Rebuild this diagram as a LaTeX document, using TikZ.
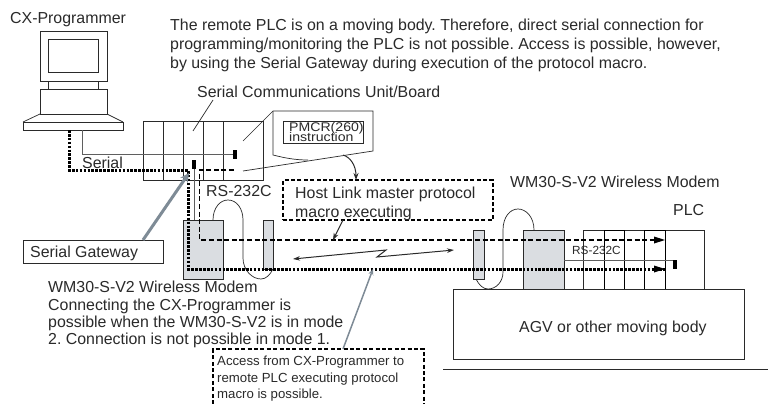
\documentclass[tikz,border=0pt]{standalone}
\usepackage{fontspec}
\setmainfont{Liberation Sans}
\newfontfamily\pmcrfont[FakeStretch=1.12]{Liberation Sans}
\usetikzlibrary{arrows.meta}
\definecolor{ink}{HTML}{2A2A2A}
\definecolor{modemfill}{HTML}{DADDE1}
\definecolor{leader}{HTML}{7E8B96}
\tikzset{
  line/.style={draw=ink,line width=0.7pt},
  box/.style={line,inner sep=0pt,outer sep=0pt,anchor=north west},
  modem/.style={box,fill=modemfill},
  txt/.style={anchor=base west,inner sep=0pt,text=ink,font=\fontsize{15.9}{18}\selectfont\frenchspacing},
  smalltxt/.style={txt,font=\fontsize{13.2}{15}\selectfont\frenchspacing},
  tinytxt/.style={txt,font=\fontsize{11.8}{13}\selectfont},
  pmcrtxt/.style={txt,font=\pmcrfont\fontsize{12.6}{13}\selectfont},
  thickdots/.style={draw=black,line width=3pt,dash pattern=on 2.6pt off 1.3pt},
  dashline/.style={draw=black,line width=1.5pt,dash pattern=on 5pt off 2.6pt},
  dashbox/.style={draw=black,line width=1.5pt,dash pattern=on 4pt off 2.4pt},
  tip/.style={-{Stealth[length=7pt,width=5pt]}},
  bothtip/.style={{Stealth[length=7pt,width=4.5pt]}-{Stealth[length=7pt,width=4.5pt]}},
  serialline/.style={draw=ink!75,line width=0.8pt},
  block/.style={fill=black,draw=none,inner sep=0pt,anchor=north west},
}
\newcommand{\rect}[6]{\node[#1,minimum width=#5pt-#3pt,minimum height=#6pt-#4pt] (#2) at (#3,#4) {};}
\begin{document}
\begin{tikzpicture}[x=1pt,y=-1pt]
\useasboundingbox (0,0) rectangle (768,404);
\fill[white] (0,0) rectangle (768,404);
% computer
\rect{box}{mon}{40}{31}{107}{81}
\rect{box}{scr}{48}{39}{98}{72}
\rect{box}{neck}{48}{81}{98}{89}
\rect{box}{cpu}{40}{89}{107}{114}
\rect{box}{kbd}{23}{122}{123}{130}
\draw[line] (cpu.south west) -- (kbd.north west);
\draw[line] (cpu.south east) -- (kbd.north east);
% serial unit rack
\rect{box}{r1}{143}{121}{163}{180}
\rect{box}{r2}{163}{121}{183}{180}
\rect{box}{r3}{183}{121}{203}{180}
\rect{box}{r4}{203}{121}{223}{180}
\rect{box}{r5}{223}{121}{263}{180}
% callout
\coordinate (ca) at (273,111);
\coordinate (cb) at (373,111);
\coordinate (cc) at (373,151);
\coordinate (cd) at (273,155);
\coordinate (ce) at (243,171);
\coordinate (cf) at (243,141);
\coordinate (cm) at (343,155);
\draw[line] (cf) -- (ca) -- (cb) -- (cc) -- (ce);
\draw[line] (ca) -- (cd) .. controls (285,158) and (295,160) .. (308,160);
\rect{box}{pmcr}{283}{121}{363}{143}
% leader of the unit
\coordinate (ua) at (193,131);
\coordinate (ub) at (213,100);
\draw[line] (ua) -- (ub);
% modems
\rect{modem}{ml}{183}{220}{223}{279}
\rect{modem}{sl}{263}{220}{273}{269}
\rect{modem}{sr}{473}{230}{484}{279}
\rect{modem}{mr}{523}{230}{564}{289}
% antenna cables
\coordinate (la) at (213,220);
\coordinate (lb) at (273,269);
\draw[line] (la) .. controls (213,208) and (220,200) .. (228,200)
  .. controls (237,200) and (243,209) .. (243,220) -- (243,258)
  .. controls (243,270) and (252,279) .. (261,279) .. controls (266,279) and (270,275) .. (lb);
\coordinate (ra) at (534,230);
\coordinate (rb) at (476,279);
\draw[line] (ra) .. controls (534,217) and (526,209) .. (518,209)
  .. controls (510,209) and (503,217) .. (503,230) -- (503,272)
  .. controls (503,282) and (496,289) .. (488,289) .. controls (483,289) and (479,285) .. (rb);
% PLC rack
\rect{box}{p1}{583}{230}{604}{289}
\rect{box}{p3}{624}{230}{644}{289}
\rect{box}{p5}{665}{230}{704}{289}
\node[box,line width=1pt,draw=black,minimum width=20pt,minimum height=59pt] (p2) at (604,230) {};
\node[box,line width=1pt,draw=black,minimum width=21pt,minimum height=59pt] (p4) at (644,230) {};
% AGV
\rect{box}{agv}{453}{289}{744}{359}
\coordinate (fa) at (443,369);
\coordinate (fb) at (768,369);
\draw[line] (fa) -- (fb);
% black ports
\node[block,minimum width=4.5pt,minimum height=9pt] (pa) at (232.5,150) {};
\node[block,minimum width=4pt,minimum height=9pt] (pb) at (192,160) {};
\node[block,minimum width=4pt,minimum height=9pt] (pc) at (673,260) {};
% serial lines
\coordinate (k1) at (82.5,130);
\draw[serialline] (k1) |- (pa.west);
\draw[serialline] (pb.south) -- (ml.north -| pb.south);
\draw[serialline] (mr.east |- pc.north) -- (pc.north west);
% thick dotted route
\coordinate (d1) at (69,130);
\coordinate (d2) at (188,170);
\coordinate (d3) at (188,269);
\coordinate (d4) at (665,269);
\draw[thickdots] (d1) |- (d2) -- (d3) -- (d4);
\fill[black] (d4) -- ++(-11,-3.5) -- ++(0,7) -- cycle;
% dashed route
\coordinate (e1) at (234,170);
\coordinate (e2) at (199.5,170);
\coordinate (e3) at (199.5,240);
\coordinate (e4) at (665,240);
\draw[dashline] (e1) -- (e2) -- (e3) -- (e4);
\fill[black] (e4) -- ++(-11,-3.5) -- ++(0,7) -- cycle;
% gray leaders
\node[box,fill=white,minimum width=140pt,minimum height=23pt] (gw) at (23,240) {};
\coordinate (ga) at (143,240);
\coordinate (gb) at (189,173);
\draw[leader,line width=3pt,-{Stealth[length=9pt,width=9pt]}] (ga) -- (gb);
\coordinate (ac) at (343,349);
\coordinate (ad) at (373,269);
\draw[leader,line width=1.5pt,-{Stealth[length=6pt,width=5pt]}] (ac) -- (ad);
% host link box
\node[dashbox,inner sep=0pt,outer sep=0pt,anchor=north west,minimum width=210pt,minimum height=40pt] (host) at (283,180) {};
\draw[line,line width=1pt,tip] (cm) .. controls (350,157) and (356,165) .. (356,180);
\coordinate (hb) at (343,220);
\coordinate (hc) at (333,240);
\draw[line,line width=1pt,tip] (hb) -- (hc);
% radio link
\coordinate (za) at (293,259);
\coordinate (zb) at (386,250);
\coordinate (zc) at (377,257);
\coordinate (zd) at (454,250);
\draw[line,line width=1pt,bothtip] (za) -- (zb) -- (zc) -- (zd);
% access box (open below)
\coordinate (b1) at (213,404);
\coordinate (b2) at (213,349);
\coordinate (b3) at (424,349);
\coordinate (b4) at (424,404);
\draw[dashbox] (b1) -- (b2) -- (b3) -- (b4);
% texts
\node[txt] (t1) at (10,24) {CX-Programmer};
\node[txt] (t2) at (170,31) {The remote PLC is on a moving body. Therefore, direct serial connection for};
\node[txt] (t3) at (170,50) {programming/monitoring the PLC is not possible. Access is possible, however,};
\node[txt] (t4) at (170,68) {by using the Serial Gateway during execution of the protocol macro.};
\node[txt] (t5) at (197,97) {Serial Communications Unit/Board};
\node[txt] (t6) at (82,168) {Serial};
\node[txt] (t7) at (206,196) {RS-232C};
\node[txt] (t8) at (295,198) {Host Link master protocol};
\node[txt] (t9) at (295,217) {macro executing};
\node[txt] (t10) at (30,257) {Serial Gateway};
\node[txt] (t11) at (48,292) {WM30-S-V2 Wireless Modem};
\node[txt] (t12) at (48,310) {Connecting the CX-Programmer is};
\node[txt] (t13) at (48,327) {possible when the WM30-S-V2 is in mode};
\node[txt] (t14) at (48,344) {2. Connection is not possible in mode 1.};
\node[txt] (t15) at (510,187) {WM30-S-V2 Wireless Modem};
\node[txt] (t16) at (673,215) {PLC};
\node[txt] (t17) at (519,332) {AGV or other moving body};
\node[tinytxt] (t18) at (572,254) {RS-232C};
\node[pmcrtxt] (t19) at (289,131) {PMCR(260)};
\node[pmcrtxt] (t20) at (289,141.5) {instruction};
\node[smalltxt] (t21) at (217,365) {Access from CX-Programmer to};
\node[smalltxt] (t22) at (217,382) {remote PLC executing protocol};
\node[smalltxt] (t23) at (217,398) {macro is possible.};
\end{tikzpicture}
\end{document}
